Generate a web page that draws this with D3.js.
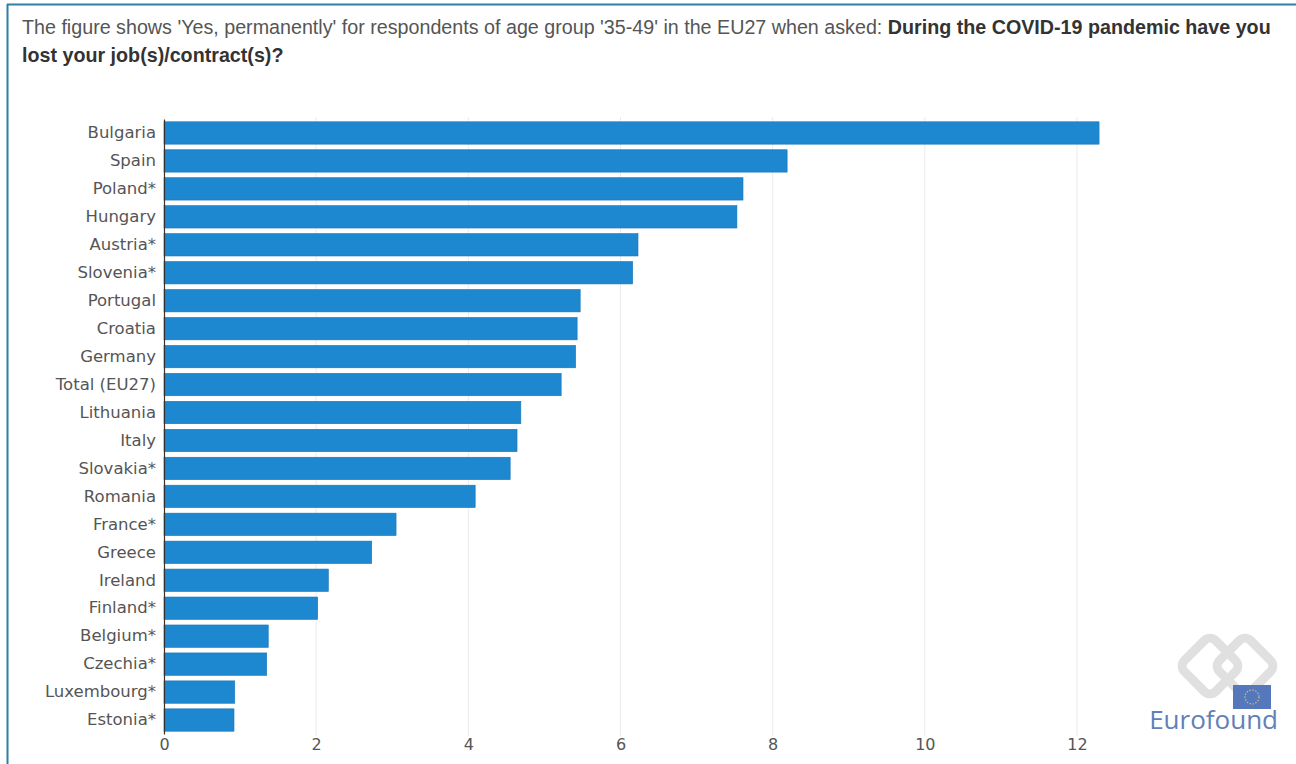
<!DOCTYPE html>
<html><head><meta charset="utf-8">
<script src="https://cdn.jsdelivr.net/npm/d3@7"></script>
<style>
html,body{margin:0;padding:0;background:#fff;}
svg{display:block;}
</style></head>
<body>
<script>
const categories = ["Bulgaria","Spain","Poland*","Hungary","Austria*","Slovenia*","Portugal","Croatia","Germany","Total (EU27)","Lithuania","Italy","Slovakia*","Romania","France*","Greece","Ireland","Finland*","Belgium*","Czechia*","Luxembourg*","Estonia*"];
const values = [12.29,8.19,7.61,7.53,6.23,6.16,5.47,5.43,5.41,5.22,4.69,4.64,4.55,4.09,3.05,2.73,2.16,2.02,1.37,1.35,0.93,0.92];
const xTicks = [0,2,4,6,8,10,12];
const titleNormal = "The figure shows 'Yes, permanently' for respondents of age group '35-49' in the EU27 when asked: ";
const titleBold1 = "During the COVID-19 pandemic have you";
const titleBold2 = "lost your job(s)/contract(s)?";

const W = 1296, H = 764;
const svg = d3.select("body").append("svg").attr("width", W).attr("height", H);

// frame
svg.append("line").attr("x1",7).attr("x2",W).attr("y1",4.5).attr("y2",4.5).attr("stroke","#2f7fa8").attr("stroke-width",2);
svg.append("line").attr("x1",7.5).attr("x2",7.5).attr("y1",4).attr("y2",H).attr("stroke","#2f7fa8").attr("stroke-width",2);

// title
const tf = "'Liberation Sans', Arial, sans-serif";
const t1 = svg.append("text").attr("x",22).attr("y",34).attr("font-family",tf).attr("font-size",19.7);
t1.append("tspan").attr("fill","#555").text(titleNormal);
t1.append("tspan").attr("fill","#333").attr("font-weight","bold").text(titleBold1);
svg.append("text").attr("x",22).attr("y",62).attr("font-family",tf).attr("font-size",19.7)
  .attr("fill","#333").attr("font-weight","bold").text(titleBold2);

const x = d3.scaleLinear().domain([0,12]).range([164,1077]);
const y = d3.scaleBand().domain(categories).range([119,734]).paddingInner(0.2).paddingOuter(0.1);

// gridlines
svg.append("g").selectAll("line").data(xTicks.filter(d=>d>0)).join("line")
  .attr("x1",d=>x(d)).attr("x2",d=>x(d)).attr("y1",117).attr("y2",736)
  .attr("stroke","#ebebeb").attr("stroke-width",1);

// bars
svg.append("g").selectAll("rect").data(values).join("rect")
  .attr("x",x(0)).attr("y",(d,i)=>y(categories[i]))
  .attr("width",d=>x(d)-x(0)).attr("height",y.bandwidth())
  .attr("fill","#1d87cf").attr("stroke","#1776b8").attr("stroke-width",0.6);

// y axis
const yAxis = svg.append("g").attr("transform",`translate(${x(0)},0)`).call(d3.axisLeft(y).tickSize(0).tickPadding(8));
yAxis.select(".domain").attr("stroke","#333").attr("stroke-width",1.2);
yAxis.selectAll("text").attr("font-family","'DejaVu Sans', sans-serif").attr("font-size",16.5).attr("fill","#555");

// x axis
const xAxis = svg.append("g").attr("transform",`translate(0,734)`).call(d3.axisBottom(x).tickValues(xTicks).tickSize(0).tickPadding(5).tickFormat(d3.format("d")));
xAxis.select(".domain").remove();
xAxis.selectAll("text").attr("font-family","'DejaVu Sans', sans-serif").attr("font-size",16).attr("fill","#555");

// Eurofound logo
const logo = svg.append("g");
[[1210,666],[1245,666]].forEach(([cx,cy])=>{
  logo.append("rect").attr("x",cx-22).attr("y",cy-22).attr("width",44).attr("height",44).attr("rx",8)
    .attr("fill","none").attr("stroke","#e0e0e0").attr("stroke-width",9)
    .attr("transform",`rotate(45,${cx},${cy})`);
});
logo.append("rect").attr("x",1233).attr("y",685).attr("width",38).attr("height",24).attr("fill","#5577bb");
logo.append("circle").attr("cx",1252).attr("cy",697).attr("r",7).attr("fill","none").attr("stroke","#c9c27a").attr("stroke-width",1.2).attr("stroke-dasharray","1.5,1.5");
logo.append("text").attr("x",1278).attr("y",729).attr("text-anchor","end")
  .attr("font-family","'Open Sans', 'DejaVu Sans', sans-serif").attr("font-size",26).attr("fill","#5f80b8").text("Eurofound");
</script>
</body></html>
